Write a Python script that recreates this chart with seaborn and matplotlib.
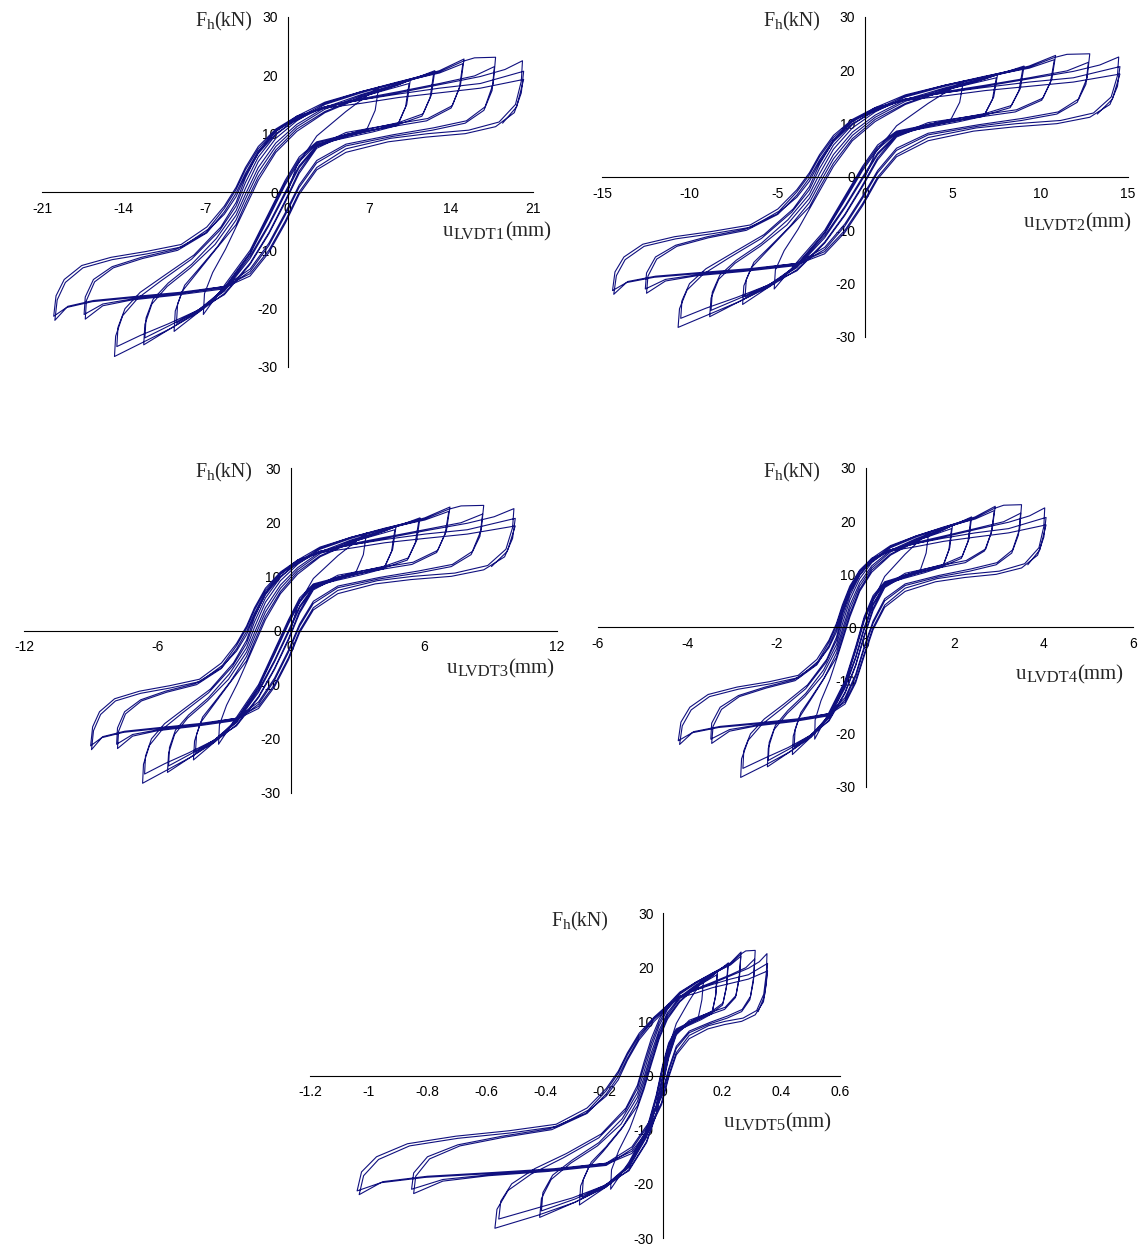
import matplotlib
matplotlib.use("Agg")
import matplotlib.pyplot as plt
import seaborn as sns
import pandas as pd

# horizontal force, one continuous cyclic test history (kN)
force = [
    0.0, 4.5, 9.6, 13.8, 18.0,
    14.0, 10.8, 9.8, 8.6, 6.0, 2.0, -3.6, -10.0, -16.0, -21.0,
    -17.4, -13.8, -9.8, -6.0, -2.6, 2.0, 6.8, 10.4, 13.6, 16.2, 18.4, 19.2,
    15.0, 11.8, 10.6, 9.6, 8.4, 5.6, 1.6, -4.0, -10.4, -16.4, -20.6, -23.9,
    -20.4, -17.0, -14.0, -10.0, -5.6, -2.0, 2.6, 7.2, 10.8, 13.8, 16.3, 18.6,
    14.6, 11.4, 10.3, 9.3, 8.2, 5.2, 1.2, -4.4, -10.6, -16.6, -20.2, -22.5,
    -19.2, -16.0, -13.2, -9.4, -4.8, -1.2, 3.4, 7.8, 11.2, 14.2, 16.5, 18.4, 20.8,
    16.6, 13.4, 11.9, 10.8, 9.8, 8.0, 4.5, 0.0, -5.5, -11.0, -16.8, -20.4, -23.4, -26.2,
    -22.7, -19.2, -16.2, -13.0, -9.0, -4.0, -0.4, 4.2, 8.4, 11.6, 14.5, 16.7, 18.6, 20.3,
    16.2, 13.0, 11.6, 10.5, 9.5, 7.8, 4.2, -0.4, -5.8, -11.4, -17.0, -20.2, -22.8, -25.0,
    -21.6, -18.4, -15.6, -12.4, -8.0, -3.2, 0.6, 5.2, 9.2, 12.2, 15.0, 17.0, 18.8, 20.8, 22.8,
    18.4, 14.8, 12.6, 11.6, 10.2, 7.8, 3.6, -1.5, -7.0, -12.2, -17.4, -20.6, -23.4, -25.8, -28.2,
    -24.7, -21.2, -18.2, -15.2, -11.5, -6.6, -2.4, 1.6, 6.0, 9.8, 12.6, 15.2, 17.2, 18.8, 20.4, 22.0,
    17.8, 14.4, 12.2, 11.2, 9.9, 7.5, 3.2, -1.8, -7.2, -12.4, -17.6, -20.4, -22.6, -24.6, -26.5,
    -23.2, -20.0, -17.2, -14.4, -10.8, -6.0, -1.8, 2.4, 6.8, 10.4, 13.0, 15.4, 17.2, 18.9, 20.6, 22.4, 23.0, 23.1,
    18.6, 14.6, 12.2, 11.0, 9.8, 8.2, 5.4, 1.2, -3.6, -8.8, -13.2, -16.2, -17.5, -18.3, -19.2, -21.0,
    -18.0, -15.0, -12.8, -11.2, -9.8, -7.0, -3.8, -0.8, 2.8, 6.6, 10.0, 12.4, 14.6, 16.0, 17.2, 18.6, 19.9, 21.5,
    17.4, 14.0, 11.8, 10.6, 9.5, 7.9, 5.0, 0.8, -4.0, -9.2, -13.6, -16.6, -17.7, -18.5, -19.5, -21.8,
    -18.6, -15.4, -13.0, -11.4, -10.0, -7.0, -3.4, -0.2, 3.2, 7.0, 10.4, 12.6, 14.6, 15.8, 17.0, 18.4, 19.8, 21.0, 22.5,
    19.0, 15.0, 12.0, 10.6, 10.0, 9.2, 7.4, 4.2, 0.0, -5.0, -10.0, -14.0, -16.2, -17.2, -17.9, -18.6, -19.6, -22.0,
    -18.5, -15.5, -13.0, -11.6, -10.6, -9.4, -6.4, -2.8, 0.4, 3.8, 7.4, 10.6, 12.8, 14.6, 15.8, 16.8, 17.8, 18.6, 20.7,
    17.0, 13.6, 11.2, 10.0, 9.4, 8.6, 6.8, 3.8, -0.4, -5.4, -10.4, -14.4, -16.4, -17.4, -18.1, -18.8, -19.8, -21.3,
    -17.8, -15.0, -12.6, -11.2, -10.2, -9.0, -6.0, -2.4, 0.8, 4.2, 7.8, 10.8, 13.0, 14.4, 15.2, 16.2, 17.0, 17.8, 19.3,
    14.6, 11.8,
]

u_lvdt1 = [
    0.0, 0.8, 2.5, 5.0, 7.8,
    7.5, 6.8, 5.0, 2.5, 1.0, -0.2, -1.6, -3.2, -5.4, -7.2,
    -7.1, -6.4, -5.3, -4.4, -3.6, -2.5, -1.0, 0.8, 3.2, 6.3, 9.5, 10.5,
    10.2, 9.5, 7.4, 5.0, 2.5, 1.0, -0.2, -1.6, -3.2, -5.4, -7.6, -9.7,
    -9.6, -9.0, -7.8, -6.2, -4.4, -3.6, -2.5, -1.0, 0.8, 3.2, 6.3, 10.4,
    10.1, 9.4, 7.3, 5.0, 2.5, 1.0, -0.2, -1.6, -3.2, -5.4, -7.6, -9.5,
    -9.4, -8.8, -7.6, -6.0, -4.4, -3.6, -2.5, -1.0, 0.8, 3.2, 6.3, 9.5, 12.6,
    12.3, 11.6, 9.5, 7.0, 5.0, 2.5, 1.0, -0.2, -1.6, -3.2, -5.4, -7.6, -10.0, -12.3,
    -12.2, -11.6, -10.3, -8.3, -6.2, -4.4, -3.6, -2.5, -1.0, 0.8, 3.2, 6.3, 9.5, 12.5,
    12.2, 11.5, 9.5, 7.0, 5.0, 2.5, 1.0, -0.2, -1.6, -3.2, -5.4, -7.6, -10.0, -12.2,
    -12.1, -11.5, -10.2, -8.2, -6.1, -4.4, -3.6, -2.5, -1.0, 0.8, 3.2, 6.3, 9.5, 13.0, 15.1,
    14.8, 14.1, 12.0, 9.0, 5.0, 2.5, 1.0, -0.2, -1.6, -3.2, -5.4, -7.6, -10.0, -12.4, -14.8,
    -14.7, -14.1, -12.8, -10.8, -8.2, -5.8, -4.4, -3.6, -2.5, -1.0, 0.8, 3.2, 6.3, 9.5, 13.0, 15.0,
    14.7, 14.0, 11.9, 8.9, 5.0, 2.5, 1.0, -0.2, -1.6, -3.2, -5.4, -7.8, -10.2, -12.6, -14.6,
    -14.5, -13.9, -12.6, -10.6, -8.0, -5.7, -4.4, -3.6, -2.5, -1.0, 0.8, 3.2, 6.3, 9.5, 13.0, 15.0, 16.0, 17.8,
    17.6, 16.9, 15.3, 12.5, 9.0, 5.0, 2.5, 1.0, -0.2, -1.6, -3.2, -5.4, -9.5, -13.2, -15.8, -17.4,
    -17.3, -16.6, -15.0, -12.5, -9.5, -7.0, -5.4, -4.4, -3.6, -2.5, -1.0, 0.8, 3.2, 6.3, 9.5, 13.0, 16.0, 17.7,
    17.5, 16.8, 15.2, 12.4, 8.9, 5.0, 2.5, 1.0, -0.2, -1.6, -3.2, -5.4, -9.6, -13.3, -15.8, -17.3,
    -17.2, -16.5, -14.9, -12.4, -9.4, -6.9, -5.4, -4.4, -3.6, -2.5, -1.0, 0.8, 3.2, 6.3, 9.5, 13.0, 16.5, 18.6, 20.1,
    20.0, 19.5, 18.1, 15.5, 12.0, 8.8, 5.0, 2.5, 1.0, -0.2, -1.6, -3.2, -5.4, -9.2, -13.0, -16.6, -18.8, -19.9,
    -19.7, -19.0, -17.5, -15.0, -12.0, -9.0, -6.8, -5.4, -4.4, -3.6, -2.5, -1.0, 0.8, 3.2, 6.3, 9.5, 13.0, 16.5, 20.2,
    20.0, 19.4, 17.8, 15.2, 11.8, 8.6, 5.0, 2.5, 1.0, -0.2, -1.6, -3.2, -5.4, -9.3, -13.1, -16.7, -18.9, -20.0,
    -19.8, -19.1, -17.6, -15.1, -12.1, -9.1, -6.9, -5.4, -4.4, -3.6, -2.5, -1.0, 0.8, 3.2, 6.3, 9.5, 13.0, 16.5, 20.2,
    19.6, 18.4,
]

u_lvdt2 = [
    0.0, 0.58, 1.80, 3.60, 5.62,
    5.40, 4.90, 3.60, 1.80, 0.72, -0.14, -1.15, -2.30, -3.89, -5.18,
    -5.11, -4.61, -3.82, -3.17, -2.59, -1.80, -0.72, 0.58, 2.30, 4.54, 6.84, 7.56,
    7.34, 6.84, 5.33, 3.60, 1.80, 0.72, -0.14, -1.15, -2.30, -3.89, -5.47, -6.98,
    -6.91, -6.48, -5.62, -4.46, -3.17, -2.59, -1.80, -0.72, 0.58, 2.30, 4.54, 7.49,
    7.27, 6.77, 5.26, 3.60, 1.80, 0.72, -0.14, -1.15, -2.30, -3.89, -5.47, -6.84,
    -6.77, -6.34, -5.47, -4.32, -3.17, -2.59, -1.80, -0.72, 0.58, 2.30, 4.54, 6.84, 9.07,
    8.86, 8.35, 6.84, 5.04, 3.60, 1.80, 0.72, -0.14, -1.15, -2.30, -3.89, -5.47, -7.20, -8.86,
    -8.78, -8.35, -7.42, -5.98, -4.46, -3.17, -2.59, -1.80, -0.72, 0.58, 2.30, 4.54, 6.84, 9.00,
    8.78, 8.28, 6.84, 5.04, 3.60, 1.80, 0.72, -0.14, -1.15, -2.30, -3.89, -5.47, -7.20, -8.78,
    -8.71, -8.28, -7.34, -5.90, -4.39, -3.17, -2.59, -1.80, -0.72, 0.58, 2.30, 4.54, 6.84, 9.36, 10.87,
    10.66, 10.15, 8.64, 6.48, 3.60, 1.80, 0.72, -0.14, -1.15, -2.30, -3.89, -5.47, -7.20, -8.93, -10.66,
    -10.58, -10.15, -9.22, -7.78, -5.90, -4.18, -3.17, -2.59, -1.80, -0.72, 0.58, 2.30, 4.54, 6.84, 9.36, 10.80,
    10.58, 10.08, 8.57, 6.41, 3.60, 1.80, 0.72, -0.14, -1.15, -2.30, -3.89, -5.62, -7.34, -9.07, -10.51,
    -10.44, -10.01, -9.07, -7.63, -5.76, -4.10, -3.17, -2.59, -1.80, -0.72, 0.58, 2.30, 4.54, 6.84, 9.36, 10.80, 11.52, 12.82,
    12.67, 12.17, 11.02, 9.00, 6.48, 3.60, 1.80, 0.72, -0.14, -1.15, -2.30, -3.89, -6.84, -9.50, -11.38, -12.53,
    -12.46, -11.95, -10.80, -9.00, -6.84, -5.04, -3.89, -3.17, -2.59, -1.80, -0.72, 0.58, 2.30, 4.54, 6.84, 9.36, 11.52, 12.74,
    12.60, 12.10, 10.94, 8.93, 6.41, 3.60, 1.80, 0.72, -0.14, -1.15, -2.30, -3.89, -6.91, -9.58, -11.38, -12.46,
    -12.38, -11.88, -10.73, -8.93, -6.77, -4.97, -3.89, -3.17, -2.59, -1.80, -0.72, 0.58, 2.30, 4.54, 6.84, 9.36, 11.88, 13.39, 14.47,
    14.40, 14.04, 13.03, 11.16, 8.64, 6.34, 3.60, 1.80, 0.72, -0.14, -1.15, -2.30, -3.89, -6.62, -9.36, -11.95, -13.54, -14.33,
    -14.18, -13.68, -12.60, -10.80, -8.64, -6.48, -4.90, -3.89, -3.17, -2.59, -1.80, -0.72, 0.58, 2.30, 4.54, 6.84, 9.36, 11.88, 14.54,
    14.40, 13.97, 12.82, 10.94, 8.50, 6.19, 3.60, 1.80, 0.72, -0.14, -1.15, -2.30, -3.89, -6.70, -9.43, -12.02, -13.61, -14.40,
    -14.26, -13.75, -12.67, -10.87, -8.71, -6.55, -4.97, -3.89, -3.17, -2.59, -1.80, -0.72, 0.58, 2.30, 4.54, 6.84, 9.36, 11.88, 14.54,
    14.11, 13.25,
]

u_lvdt3 = [
    0.0, 0.32, 1.03, 2.13, 3.42,
    3.28, 2.95, 2.13, 1.03, 0.41, -0.09, -0.72, -1.44, -2.43, -3.24,
    -3.20, -2.88, -2.39, -1.98, -1.62, -1.13, -0.45, 0.32, 1.33, 2.72, 4.25, 4.75,
    4.60, 4.25, 3.23, 2.13, 1.03, 0.41, -0.09, -0.72, -1.44, -2.43, -3.42, -4.37,
    -4.32, -4.05, -3.51, -2.79, -1.98, -1.62, -1.13, -0.45, 0.32, 1.33, 2.72, 4.70,
    4.55, 4.20, 3.19, 2.13, 1.03, 0.41, -0.09, -0.72, -1.44, -2.43, -3.42, -4.28,
    -4.23, -3.96, -3.42, -2.70, -1.98, -1.62, -1.13, -0.45, 0.32, 1.33, 2.72, 4.25, 5.83,
    5.68, 5.31, 4.25, 3.05, 2.13, 1.03, 0.41, -0.09, -0.72, -1.44, -2.43, -3.42, -4.50, -5.54,
    -5.49, -5.22, -4.64, -3.74, -2.79, -1.98, -1.62, -1.13, -0.45, 0.32, 1.33, 2.72, 4.25, 5.78,
    5.62, 5.26, 4.25, 3.05, 2.13, 1.03, 0.41, -0.09, -0.72, -1.44, -2.43, -3.42, -4.50, -5.49,
    -5.45, -5.18, -4.59, -3.69, -2.75, -1.98, -1.62, -1.13, -0.45, 0.32, 1.33, 2.72, 4.25, 6.05, 7.18,
    7.02, 6.63, 5.52, 4.01, 2.13, 1.03, 0.41, -0.09, -0.72, -1.44, -2.43, -3.42, -4.50, -5.58, -6.66,
    -6.62, -6.35, -5.76, -4.86, -3.69, -2.61, -1.98, -1.62, -1.13, -0.45, 0.32, 1.33, 2.72, 4.25, 6.05, 7.13,
    6.96, 6.58, 5.47, 3.96, 2.13, 1.03, 0.41, -0.09, -0.72, -1.44, -2.43, -3.51, -4.59, -5.67, -6.57,
    -6.53, -6.26, -5.67, -4.77, -3.60, -2.57, -1.98, -1.62, -1.13, -0.45, 0.32, 1.33, 2.72, 4.25, 6.05, 7.13, 7.68, 8.70,
    8.59, 8.19, 7.29, 5.78, 4.01, 2.13, 1.03, 0.41, -0.09, -0.72, -1.44, -2.43, -4.28, -5.94, -7.11, -7.83,
    -7.79, -7.47, -6.75, -5.63, -4.28, -3.15, -2.43, -1.98, -1.62, -1.13, -0.45, 0.32, 1.33, 2.72, 4.25, 6.05, 7.68, 8.65,
    8.53, 8.13, 7.24, 5.73, 3.96, 2.13, 1.03, 0.41, -0.09, -0.72, -1.44, -2.43, -4.32, -5.99, -7.11, -7.79,
    -7.74, -7.43, -6.71, -5.58, -4.23, -3.11, -2.43, -1.98, -1.62, -1.13, -0.45, 0.32, 1.33, 2.72, 4.25, 6.05, 7.96, 9.17, 10.06,
    10.00, 9.70, 8.88, 7.40, 5.52, 3.91, 2.13, 1.03, 0.41, -0.09, -0.72, -1.44, -2.43, -4.14, -5.85, -7.47, -8.46, -8.96,
    -8.87, -8.55, -7.88, -6.75, -5.40, -4.05, -3.06, -2.43, -1.98, -1.62, -1.13, -0.45, 0.32, 1.33, 2.72, 4.25, 6.05, 7.96, 10.12,
    10.00, 9.64, 8.70, 7.24, 5.42, 3.81, 2.13, 1.03, 0.41, -0.09, -0.72, -1.44, -2.43, -4.19, -5.90, -7.52, -8.51, -9.00,
    -8.91, -8.60, -7.92, -6.80, -5.45, -4.10, -3.11, -2.43, -1.98, -1.62, -1.13, -0.45, 0.32, 1.33, 2.72, 4.25, 6.05, 7.96, 10.12,
    9.76, 9.05,
]

u_lvdt4 = [
    0.0, 0.14, 0.43, 0.89, 1.42,
    1.36, 1.23, 0.89, 0.43, 0.17, -0.03, -0.22, -0.46, -0.82, -1.14,
    -1.13, -1.00, -0.80, -0.65, -0.52, -0.35, -0.13, 0.14, 0.56, 1.13, 1.75, 1.95,
    1.89, 1.75, 1.34, 0.89, 0.43, 0.17, -0.03, -0.22, -0.46, -0.82, -1.22, -1.64,
    -1.62, -1.49, -1.26, -0.96, -0.65, -0.52, -0.35, -0.13, 0.14, 0.56, 1.13, 1.93,
    1.87, 1.73, 1.32, 0.89, 0.43, 0.17, -0.03, -0.22, -0.46, -0.82, -1.22, -1.60,
    -1.58, -1.45, -1.22, -0.92, -0.65, -0.52, -0.35, -0.13, 0.14, 0.56, 1.13, 1.75, 2.38,
    2.32, 2.17, 1.75, 1.26, 0.89, 0.43, 0.17, -0.03, -0.22, -0.46, -0.82, -1.22, -1.70, -2.20,
    -2.18, -2.05, -1.76, -1.36, -0.96, -0.65, -0.52, -0.35, -0.13, 0.14, 0.56, 1.13, 1.75, 2.36,
    2.30, 2.15, 1.75, 1.26, 0.89, 0.43, 0.17, -0.03, -0.22, -0.46, -0.82, -1.22, -1.70, -2.18,
    -2.16, -2.02, -1.74, -1.34, -0.94, -0.65, -0.52, -0.35, -0.13, 0.14, 0.56, 1.13, 1.75, 2.46, 2.91,
    2.84, 2.70, 2.26, 1.65, 0.89, 0.43, 0.17, -0.03, -0.22, -0.46, -0.82, -1.22, -1.70, -2.23, -2.80,
    -2.78, -2.63, -2.32, -1.87, -1.34, -0.89, -0.65, -0.52, -0.35, -0.13, 0.14, 0.56, 1.13, 1.75, 2.46, 2.89,
    2.82, 2.67, 2.24, 1.63, 0.89, 0.43, 0.17, -0.03, -0.22, -0.46, -0.82, -1.26, -1.74, -2.27, -2.75,
    -2.73, -2.58, -2.27, -1.83, -1.30, -0.87, -0.65, -0.52, -0.35, -0.13, 0.14, 0.56, 1.13, 1.75, 2.46, 2.89, 3.10, 3.50,
    3.46, 3.30, 2.95, 2.36, 1.65, 0.89, 0.43, 0.17, -0.03, -0.22, -0.46, -0.82, -1.60, -2.41, -3.05, -3.47,
    -3.45, -3.26, -2.85, -2.25, -1.60, -1.11, -0.82, -0.65, -0.52, -0.35, -0.13, 0.14, 0.56, 1.13, 1.75, 2.46, 3.10, 3.48,
    3.43, 3.28, 2.93, 2.34, 1.63, 0.89, 0.43, 0.17, -0.03, -0.22, -0.46, -0.82, -1.62, -2.44, -3.05, -3.45,
    -3.42, -3.23, -2.83, -2.23, -1.58, -1.09, -0.82, -0.65, -0.52, -0.35, -0.13, 0.14, 0.56, 1.13, 1.75, 2.46, 3.21, 3.68, 4.02,
    4.00, 3.89, 3.57, 3.00, 2.26, 1.61, 0.89, 0.43, 0.17, -0.03, -0.22, -0.46, -0.82, -1.54, -2.37, -3.26, -3.86, -4.17,
    -4.11, -3.91, -3.50, -2.85, -2.14, -1.49, -1.07, -0.82, -0.65, -0.52, -0.35, -0.13, 0.14, 0.56, 1.13, 1.75, 2.46, 3.21, 4.05,
    4.00, 3.86, 3.50, 2.93, 2.22, 1.57, 0.89, 0.43, 0.17, -0.03, -0.22, -0.46, -0.82, -1.56, -2.39, -3.29, -3.89, -4.20,
    -4.14, -3.94, -3.53, -2.88, -2.16, -1.51, -1.09, -0.82, -0.65, -0.52, -0.35, -0.13, 0.14, 0.56, 1.13, 1.75, 2.46, 3.21, 4.05,
    3.91, 3.64,
]

u_lvdt5 = [
    0.0, 0.014, 0.044, 0.088, 0.137,
    0.131, 0.119, 0.088, 0.044, 0.018, -0.002, -0.024, -0.057, -0.117, -0.179,
    -0.176, -0.151, -0.114, -0.088, -0.066, -0.041, -0.014, 0.014, 0.056, 0.110, 0.166, 0.184,
    0.179, 0.166, 0.130, 0.088, 0.044, 0.018, -0.002, -0.024, -0.057, -0.117, -0.195, -0.285,
    -0.281, -0.254, -0.204, -0.144, -0.088, -0.066, -0.041, -0.014, 0.014, 0.056, 0.110, 0.182,
    0.177, 0.165, 0.128, 0.088, 0.044, 0.018, -0.002, -0.024, -0.057, -0.117, -0.195, -0.276,
    -0.272, -0.245, -0.195, -0.137, -0.088, -0.066, -0.041, -0.014, 0.014, 0.056, 0.110, 0.166, 0.221,
    0.215, 0.203, 0.166, 0.123, 0.088, 0.044, 0.018, -0.002, -0.024, -0.057, -0.117, -0.195, -0.300, -0.420,
    -0.414, -0.381, -0.315, -0.224, -0.144, -0.088, -0.066, -0.041, -0.014, 0.014, 0.056, 0.110, 0.166, 0.219,
    0.214, 0.201, 0.166, 0.123, 0.088, 0.044, 0.018, -0.002, -0.024, -0.057, -0.117, -0.195, -0.300, -0.414,
    -0.409, -0.376, -0.309, -0.219, -0.140, -0.088, -0.066, -0.041, -0.014, 0.014, 0.056, 0.110, 0.166, 0.228, 0.264,
    0.259, 0.247, 0.210, 0.158, 0.088, 0.044, 0.018, -0.002, -0.024, -0.057, -0.117, -0.195, -0.300, -0.426, -0.572,
    -0.565, -0.527, -0.449, -0.340, -0.219, -0.130, -0.088, -0.066, -0.041, -0.014, 0.014, 0.056, 0.110, 0.166, 0.228, 0.263,
    0.257, 0.245, 0.208, 0.156, 0.088, 0.044, 0.018, -0.002, -0.024, -0.057, -0.117, -0.204, -0.309, -0.437, -0.559,
    -0.552, -0.515, -0.437, -0.329, -0.211, -0.127, -0.088, -0.066, -0.041, -0.014, 0.014, 0.056, 0.110, 0.166, 0.228, 0.263, 0.280, 0.312,
    0.308, 0.296, 0.268, 0.219, 0.158, 0.088, 0.044, 0.018, -0.006, -0.051, -0.107, -0.194, -0.384, -0.588, -0.749, -0.855,
    -0.848, -0.801, -0.698, -0.547, -0.384, -0.264, -0.194, -0.153, -0.122, -0.082, -0.031, 0.014, 0.056, 0.110, 0.166, 0.228, 0.280, 0.310,
    0.306, 0.294, 0.266, 0.217, 0.156, 0.088, 0.044, 0.018, -0.006, -0.051, -0.107, -0.194, -0.389, -0.594, -0.749, -0.848,
    -0.841, -0.794, -0.691, -0.541, -0.379, -0.259, -0.194, -0.153, -0.122, -0.082, -0.031, 0.014, 0.056, 0.110, 0.166, 0.228, 0.289, 0.326, 0.352,
    0.350, 0.341, 0.317, 0.271, 0.210, 0.154, 0.088, 0.044, 0.018, -0.006, -0.051, -0.107, -0.194, -0.369, -0.576, -0.801, -0.953, -1.033,
    -1.018, -0.967, -0.862, -0.698, -0.518, -0.359, -0.255, -0.194, -0.153, -0.122, -0.082, -0.031, 0.014, 0.056, 0.110, 0.166, 0.228, 0.289, 0.354,
    0.350, 0.340, 0.312, 0.266, 0.207, 0.151, 0.088, 0.044, 0.018, -0.006, -0.051, -0.107, -0.194, -0.374, -0.582, -0.808, -0.960, -1.040,
    -1.025, -0.974, -0.869, -0.704, -0.524, -0.364, -0.259, -0.194, -0.153, -0.122, -0.082, -0.031, 0.014, 0.056, 0.110, 0.166, 0.228, 0.289, 0.354,
    0.343, 0.322,
]

# axis ticks per panel
force_ticks = [-30, -20, -10, 0, 10, 20, 30]
ticks_lvdt1 = [-21, -14, -7, 0, 7, 14, 21]
ticks_lvdt2 = [-15, -10, -5, 0, 5, 10, 15]
ticks_lvdt3 = [-12, -6, 0, 6, 12]
ticks_lvdt4 = [-6, -4, -2, 0, 2, 4, 6]
ticks_lvdt5 = [-1.2, -1.0, -0.8, -0.6, -0.4, -0.2, 0.0, 0.2, 0.4, 0.6]
labels_lvdt5 = ["-1.2", "-1", "-0.8", "-0.6", "-0.4", "-0.2", "0", "0.2", "0.4", "0.6"]

df = pd.DataFrame({
    "force": force,
    "LVDT1": u_lvdt1, "LVDT2": u_lvdt2, "LVDT3": u_lvdt3,
    "LVDT4": u_lvdt4, "LVDT5": u_lvdt5,
})

sns.set_style("white")
plt.rcParams["font.family"] = ["Liberation Sans", "DejaVu Sans"]

W, H = 1143, 1247
fig = plt.figure(figsize=(W / 100, H / 100), dpi=100)
renderer = fig.canvas.get_renderer()

line_color = "#10107f"
serif = ["Liberation Serif", "DejaVu Serif"]


def rich_label(x_px, base_px, parts, align="left"):
    # write text pieces one after another, subscripts smaller and lowered
    texts, widths = [], []
    for s, size, dy in parts:
        t = fig.text(0, 0, s, fontsize=size, family=serif, ha="left", va="baseline")
        widths.append(t.get_window_extent(renderer).width)
        texts.append(t)
    x = x_px - sum(widths) if align == "right" else x_px
    for t, w, (s, size, dy) in zip(texts, widths, parts):
        t.set_position((x / W, 1 - (base_px + dy) / H))
        x += w


# (column, pixel box [x0, x1, ytop, ybottom], ticks, tick labels, F label anchor, u label anchor)
panels = [
    ("LVDT1", (42, 533, 17, 367), ticks_lvdt1, None, (252, 26), (443, 236)),
    ("LVDT2", (602, 1128, 17, 337), ticks_lvdt2, None, (820, 26), (1024, 227)),
    ("LVDT3", (24, 557, 468, 793), ticks_lvdt3, None, (252, 477), (447, 673)),
    ("LVDT4", (598, 1133, 468, 787), ticks_lvdt4, None, (820, 477), (1016, 679)),
    ("LVDT5", (310, 840, 913, 1238), ticks_lvdt5, labels_lvdt5, (608, 926), (724, 1127)),
]

for col, (x0, x1, yt, yb), xt, xl, f_pos, u_pos in panels:
    ax = fig.add_axes([x0 / W, 1 - yb / H, (x1 - x0) / W, (yb - yt) / H])
    sns.lineplot(data=df, x=col, y="force", sort=False, estimator=None,
                 color=line_color, linewidth=0.8, legend=False, ax=ax)
    ax.set_xlim(xt[0], xt[-1])
    ax.set_ylim(-30, 30)
    ax.set_xticks(xt)
    if xl is not None:
        ax.set_xticklabels(xl)
    else:
        ax.set_xticklabels([str(v) for v in xt])
    ax.set_yticks(force_ticks)
    ax.set_yticklabels([str(v) for v in force_ticks])
    ax.set_xlabel("")
    ax.set_ylabel("")
    for side in ("top", "right"):
        ax.spines[side].set_visible(False)
    ax.spines["left"].set_position(("data", 0))
    ax.spines["bottom"].set_position(("data", 0))
    for side in ("left", "bottom"):
        ax.spines[side].set_linewidth(0.8)
        ax.spines[side].set_color("black")
    ax.tick_params(direction="out", length=4, width=0.8, colors="black",
                   labelsize=10, pad=3)
    ax.patch.set_alpha(0)

    rich_label(f_pos[0], f_pos[1], [("F", 14.5, 0), ("h", 11, 3), ("(kN)", 14.5, 0)],
               align="right")
    rich_label(u_pos[0], u_pos[1], [("u", 15, 0), (col, 12, 3), ("(mm)", 15, 0)])

fig.savefig("out.png", dpi=100)
plt.close(fig)
